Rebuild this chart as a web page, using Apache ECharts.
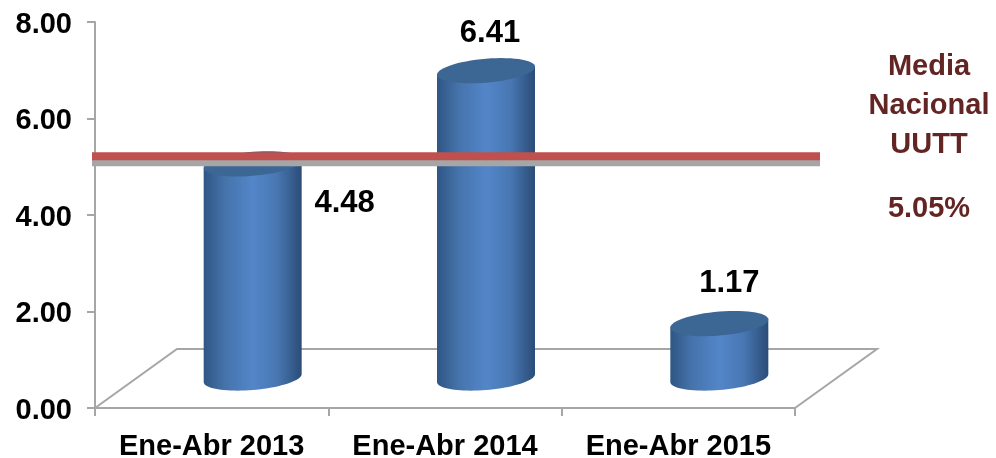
<!DOCTYPE html>
<html><head><meta charset="utf-8">
<style>html,body{margin:0;padding:0;background:#fff}#c{width:996px;height:458px}</style>
<script src="https://cdn.jsdelivr.net/npm/echarts@6/dist/echarts.min.js"></script>
</head><body><div id="c"></div>
<script>
const categories = ['Ene-Abr 2013', 'Ene-Abr 2014', 'Ene-Abr 2015'];
const values = [4.48, 6.41, 1.17];
const mediaNacional = 5.05;
const mediaLabel = ['Media', 'Nacional', 'UUTT'];

const FONT = 'Liberation Sans, Arial, sans-serif';
const DX = 41, DY = 29.5, RX = 49, RY = 12, SKEW = 4;
const GREY = '#a6a6a6', DARKRED = '#632523';
const labelOffsets = [[92, 12], [4, -65], [10, -68]];

function ellipsePts(cx, cy, from, to, n) {
  const pts = [];
  for (let i = 0; i <= n; i++) {
    const t = from + (to - from) * i / n;
    pts.push([cx + RX * Math.cos(t), cy + RY * Math.sin(t) - SKEW * Math.cos(t)]);
  }
  return pts;
}

const chart = echarts.init(document.getElementById('c'), null, {renderer: 'canvas'});
chart.setOption({
  animation: false,
  backgroundColor: '#fff',
  grid: {left: 95, right: 201, top: 22, bottom: 50, outerBoundsMode: 'none'},
  xAxis: {
    type: 'category', data: categories,
    axisLine: {lineStyle: {color: GREY, width: 2}},
    axisTick: {show: true, length: 8, lineStyle: {color: GREY, width: 2}},
    axisLabel: {color: '#000', fontFamily: FONT, fontWeight: 'bold', fontSize: 29, margin: 24, interval: 0}
  },
  yAxis: {
    type: 'value', min: 0, max: 8, interval: 2,
    splitLine: {show: false},
    axisLine: {show: true, lineStyle: {color: GREY, width: 2}},
    axisTick: {show: true, length: 8, lineStyle: {color: GREY, width: 2}},
    axisLabel: {margin: 23, formatter: v => '{a|' + v.toFixed(2) + '}',
      rich: {a: {color: '#000', fontFamily: FONT, fontWeight: 'bold', fontSize: 29, padding: [5, 0, 0, 0]}}}
  },
  graphic: mediaLabel.map((t, i) => ({
    type: 'text', x: 929, y: [67, 106, 145][i],
    style: {text: t, fill: DARKRED, font: 'bold 29px ' + FONT, textAlign: 'center', textVerticalAlign: 'middle'}
  })).concat([{
    type: 'text', x: 929, y: 209,
    style: {text: mediaNacional.toFixed(2) + '%', fill: DARKRED, font: 'bold 29px ' + FONT, textAlign: 'center', textVerticalAlign: 'middle'}
  }]),
  series: [
    {
      type: 'custom', coordinateSystem: 'cartesian2d', clip: false, silent: true, z: 1,
      data: [[0, 0]],
      renderItem(params, api) {
        const cs = params.coordSys;
        const y0 = api.coord([0, 0])[1];
        const xl = cs.x, xr = cs.x + cs.width;
        return {
          type: 'polyline',
          shape: {points: [[xl, y0], [xl + 2 * DX, y0 - 2 * DY], [xr + 2 * DX, y0 - 2 * DY], [xr, y0]]},
          style: {fill: null, stroke: GREY, lineWidth: 2}
        };
      }
    },
    {
      type: 'custom', coordinateSystem: 'cartesian2d', clip: false, silent: true, z: 2,
      encode: {x: 0, y: 1},
      data: values.map((v, i) => [i, v]),
      renderItem(params, api) {
        const i = api.value(0), v = api.value(1);
        const top = api.coord([i, v]), bot = api.coord([i, 0]);
        const cx = top[0] + DX, ct = top[1] - DY + 1.5, cb = bot[1] - DY - 0.5;
        const left = [cx - RX, ct + SKEW], right = [cx + RX, ct - SKEW];
        const body = [right].concat(ellipsePts(cx, cb, 0, Math.PI, 40)).concat([left]);
        const cap = ellipsePts(cx, ct, 0, Math.PI * 2, 60);
        const off = labelOffsets[i];
        return {
          type: 'group',
          children: [
            {type: 'polygon', shape: {points: body}, style: {
              fill: new echarts.graphic.LinearGradient(0, 0, 1, 0, [
                {offset: 0, color: '#2f5684'},
                {offset: 0.22, color: '#4573ab'},
                {offset: 0.5, color: '#5386c9'},
                {offset: 0.75, color: '#4877b2'},
                {offset: 1, color: '#2b4c77'}
              ])
            }},
            {type: 'polygon', shape: {points: cap}, style: {fill: '#3c6694'}},
            {type: 'text', style: {
              text: v.toFixed(2), x: cx + off[0], y: top[1] + off[1],
              fill: '#000', font: 'bold 31px ' + FONT, textAlign: 'center', textVerticalAlign: 'middle'
            }}
          ]
        };
      }
    },
    {
      type: 'custom', coordinateSystem: 'cartesian2d', clip: false, silent: true, z: 3,
      data: [[0, mediaNacional]],
      renderItem(params, api) {
        const cs = params.coordSys;
        const y = api.coord([0, api.value(1)])[1];
        const x1 = cs.x - 3, x2 = cs.x + cs.width + 25;
        return {
          type: 'group',
          children: [
            {type: 'rect', shape: {x: x1, y: y - 5, width: x2 - x1, height: 7}, style: {fill: GREY}},
            {type: 'rect', shape: {x: x1, y: y - 12, width: x2 - x1, height: 8}, style: {fill: '#c0504d'}}
          ]
        };
      }
    }
  ]
});
</script></body></html>
